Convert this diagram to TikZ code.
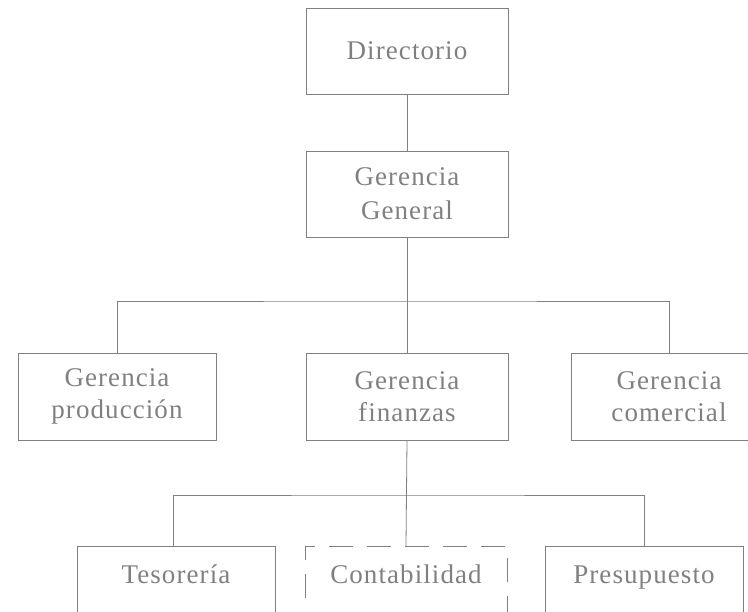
\documentclass[tikz,border=0pt]{standalone}
\usepackage{fontspec}
\setmainfont{Liberation Serif}[LetterSpace=4]
\begin{document}
\begin{tikzpicture}[x=1pt,y=-1pt,
  unit/.style={draw=black!50, line width=0.8pt, text=black!50,
    font=\fontsize{27}{32}\selectfont, align=center, inner sep=0pt},
  boss/.style={unit, minimum width=202pt, minimum height=86pt},
  dept/.style={unit, minimum width=200pt, minimum height=87pt},
  leaf/.style={unit, anchor=north, minimum width=198pt,
    text height=19pt, text depth=45pt, inner ysep=18pt},
  dashedbox/.style={dash pattern=on 24pt off 14pt},
  link/.style={draw=black!50, line width=0.8pt}]
\useasboundingbox (0,0) rectangle (748,612);
\begin{scope}
\clip (0,0) rectangle (748,612);

% top of the chart
\node[boss] (dir) at (407,51) {Directorio};
\node[boss, font=\fontsize{27}{34}\selectfont] (gg) at (407,194)
  {\rule{0pt}{6pt}Gerencia\\General};

% second level
\node[dept, minimum width=198pt] (prod) at (117,396.5) {Gerencia\\producción};
\node[dept, minimum width=202pt] (fin) at (407,396.5) {Gerencia\\finanzas};
\node[dept, minimum width=196pt] (com) at (669,396.5) {Gerencia\\comercial};

% third level
\node[leaf] (tes) at (176,546) {Tesorería};
\node[leaf, dashedbox, minimum width=202pt] (cont) at (406,546) {Contabilidad};
\node[leaf] (pres) at (644,546) {Presupuesto};

% junction points of the branch lines
\coordinate (j1) at (407,301);
\coordinate (j2) at (407,495);

% connectors
\draw[link] (dir.south) -- (gg.north);
\draw[link] (gg.south) -- (j1);
\draw[link] (j1) -- (fin.north);
\draw[link] (prod.north) |- (j1) -| (com.north);
\draw[link] (fin.south) -- (cont.north);
\draw[link] ([xshift=-3pt]tes.north) |- (j2) -| (pres.north);
\end{scope}
\end{tikzpicture}
\end{document}
